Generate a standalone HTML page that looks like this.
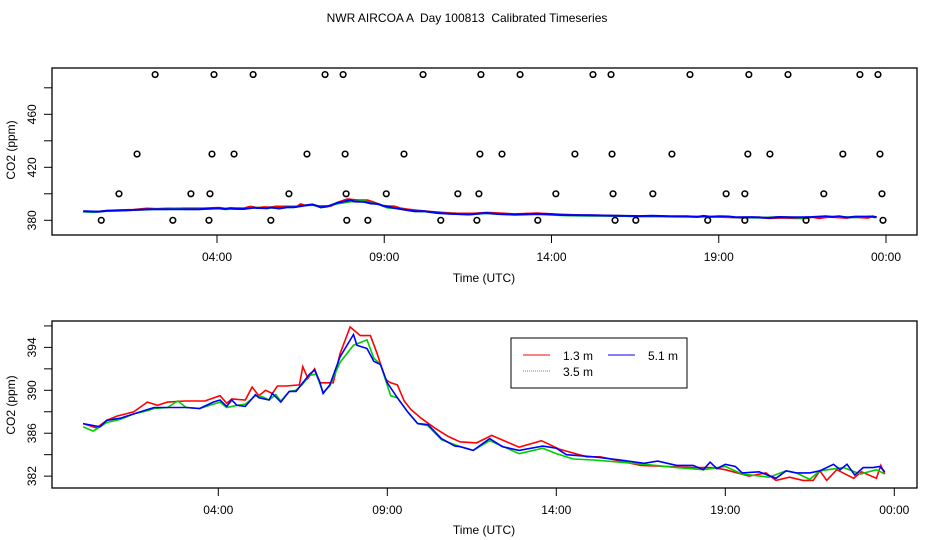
<!DOCTYPE html>
<html><head><meta charset="utf-8"><style>
body{margin:0;background:#fff}
svg{display:block;font-family:"Liberation Sans",sans-serif}
</style></head><body>
<svg id="chart" width="936" height="540">
<text x="467" y="22" font-size="12" text-anchor="middle" style="white-space:pre" xml:space="preserve">NWR AIRCOA A  Day 100813  Calibrated Timeseries</text>
</svg>
<script>
const xTickHours=[4,9,14,19,24];
const xTickLabels=["04:00","09:00","14:00","19:00","00:00"];
const topYTicks=[380,400,420,440,460,480];
const topYLabels=[380,420,460];
const botYTicks=[382,384,386,388,390,392,394,396];
const botYLabels=[382,386,390,394];
const out490=[2.15,3.91,5.08,7.23,7.77,10.16,11.89,13.06,15.24,15.78,18.14,19.90,21.07,23.22,23.76];
const out430=[1.61,3.85,4.51,6.69,7.83,9.59,11.86,12.52,14.70,15.81,17.60,19.87,20.53,22.71,23.82];
const out400=[1.07,3.22,3.79,6.15,7.86,9.06,11.20,11.83,14.13,15.84,17.03,19.22,19.78,22.14,23.88];
const out380=[0.54,2.68,3.76,5.61,7.88,8.51,10.69,11.77,13.59,15.90,16.52,18.67,19.78,21.61,23.91];
const redH=[0,0.4,0.7,1.0,1.5,1.9,2.2,2.5,3.0,3.6,4.05,4.25,4.4,4.8,5.0,5.2,5.4,5.6,5.75,6.0,6.4,6.5,6.65,6.85,7.0,7.4,7.6,7.9,8.2,8.5,8.7,8.95,9.1,9.3,9.5,9.7,10.0,10.4,10.8,11.15,11.64,12.09,12.9,13.56,14.1,14.9,15.3,15.9,16.5,17.3,18.05,18.6,19.0,19.7,20.2,20.5,20.9,21.3,21.6,21.8,22.0,22.3,22.8,23.03,23.47,23.6,23.72];
const redV=[386.9,386.5,387.2,387.6,388.0,388.9,388.6,388.9,389.0,389.0,389.5,388.8,389.2,389.1,390.3,389.5,390.0,389.7,390.4,390.4,390.5,392.2,391.1,392.0,390.7,390.7,393.4,395.9,395.1,395.1,393.4,391.0,390.7,390.5,389.0,388.2,387.4,386.5,385.7,385.2,385.1,385.8,384.7,385.3,384.5,383.8,383.8,383.4,383.0,382.9,382.8,382.8,382.6,382.0,382.3,381.6,381.9,381.6,381.6,382.5,381.6,382.6,381.8,382.4,381.8,383.0,382.2];
const greenH=[0,0.3,0.7,1.1,1.5,1.9,2.1,2.5,2.8,3.05,3.45,3.85,4.05,4.25,4.55,4.8,5.1,5.3,5.5,5.7,5.85,6.1,6.3,6.5,6.7,6.9,7.1,7.3,7.6,8.0,8.4,8.6,8.8,9.1,9.3,9.6,9.9,10.2,10.6,11.15,11.54,12.03,12.9,13.6,14.0,14.5,15.1,15.9,16.6,17.56,18.35,19.0,19.5,20.3,20.8,21.1,21.5,21.8,22.5,23.0,23.47,23.72];
const greenV=[386.6,386.2,387.0,387.3,387.8,388.1,388.3,388.4,389.0,388.4,388.3,388.7,388.9,388.4,388.6,388.7,389.5,389.4,389.1,389.6,389.0,389.9,390.0,390.6,391.4,391.5,389.8,390.4,392.6,394.2,394.7,393.0,392.4,389.5,389.3,388.0,386.9,386.7,385.4,384.75,384.4,385.3,384.1,384.6,384.1,383.6,383.5,383.3,383.1,382.8,382.6,382.9,382.2,381.9,382.5,382.3,381.7,382.5,382.8,382.2,382.6,382.2];
const blueH=[0,0.5,0.7,1.1,1.5,1.9,2.1,2.5,3.05,3.45,3.85,4.05,4.25,4.4,4.55,4.8,5.1,5.2,5.5,5.6,5.85,6.1,6.3,6.5,6.7,6.85,7.0,7.1,7.3,7.6,8.0,8.1,8.4,8.6,8.8,9.0,9.3,9.6,9.9,10.2,10.6,11.0,11.15,11.54,12.03,12.4,12.9,13.6,14.0,14.3,15.1,15.9,16.6,17.0,17.56,18.05,18.35,18.55,18.75,19.0,19.3,19.5,20.0,20.5,20.8,21.1,21.5,21.8,22.2,22.4,22.6,22.83,23.08,23.37,23.57,23.72];
const blueV=[386.9,386.6,387.2,387.4,387.8,388.2,388.4,388.4,388.4,388.3,388.9,389.1,388.5,389.1,388.6,388.5,389.6,389.3,389.1,389.7,388.9,389.9,389.9,390.7,391.5,391.9,390.8,389.7,390.5,393.1,395.2,394.2,393.9,392.7,392.4,390.7,389.3,388.0,386.9,386.8,385.5,384.8,384.75,384.4,385.5,384.75,384.4,384.8,384.6,384.0,383.8,383.5,383.2,383.4,383.0,383.0,382.6,383.3,382.7,383.1,382.9,382.3,382.4,381.8,382.5,382.3,382.3,382.5,383.1,382.6,383.1,382.1,382.8,382.8,382.9,382.4];

const NS="http://www.w3.org/2000/svg";
const svg=document.getElementById('chart');
function mk(tag,attrs,parent){const e=document.createElementNS(NS,tag);for(const k in attrs)e.setAttribute(k,attrs[k]);(parent||svg).appendChild(e);return e;}

const panels=[
 {name:'top',left:52,right:917,top:68,bottom:235,x0:83.2,pxh:33.45,v0:380,y0:220.3,ppv:1.325,yt:topYTicks,yl:topYLabels,ylabCy:150,xlabY:282},
 {name:'bottom',left:52,right:917,top:321,bottom:488,x0:83.1,pxh:33.8,v0:390,y0:390.3,ppv:10.73,yt:botYTicks,yl:botYLabels,ylabCy:405,xlabY:534}
];
const series=[['red',redH,redV,'#ff0000'],['green',greenH,greenV,'#00cd00'],['blue',blueH,blueV,'#0000ff']];

panels.forEach(p=>{
 const X=h=>p.x0+h*p.pxh, Y=v=>p.y0-(v-p.v0)*p.ppv;
 const g=mk('g',{});
 
 
 const box=mk('rect',{x:p.left,y:p.top,width:p.right-p.left,height:p.bottom-p.top,fill:'none',stroke:'#000','stroke-width':1.3},g);
 
 
 xTickHours.forEach((h,i)=>{
  const x=X(h);
  const t=mk('line',{x1:x,x2:x,y1:p.bottom,y2:p.bottom+8,stroke:'#000'},g);
  
  
  const l=mk('text',{x:x,y:p.bottom+26,'font-size':12,'text-anchor':'middle'},g);
  l.textContent=xTickLabels[i];
  
  
 });
 p.yt.forEach(v=>{
  const y=Y(v);
  const t=mk('line',{x1:p.left-8,x2:p.left,y1:y,y2:y,stroke:'#000'},g);
  
  
 });
 p.yl.forEach(v=>{
  const y=Y(v);
  const l=mk('text',{x:0,y:0,'font-size':12,'text-anchor':'middle',transform:`translate(${p.left-16},${y}) rotate(-90)`},g);
  l.textContent=v;
  
  
 });
 const xt=mk('text',{x:484,y:p.xlabY,'font-size':12,'text-anchor':'middle'},g);
 xt.textContent='Time (UTC)';
 
 
 const yt=mk('text',{x:0,y:0,'font-size':12,'text-anchor':'middle',transform:`translate(15,${p.ylabCy}) rotate(-90)`},g);
 yt.textContent='CO2 (ppm)';
 
 
 series.forEach(s=>{
  const pts=s[1].map((h,i)=>X(h).toFixed(1)+','+Y(s[2][i]).toFixed(1)).join(' ');
  const pl=mk('polyline',{points:pts,fill:'none',stroke:s[3],'stroke-width':p.name==='top'?2:1.6},g);
  
  
 });
 if(p.name==='top'){
  [[490,out490],[430,out430],[400,out400],[380,out380]].forEach(r=>{
   r[1].forEach(h=>{
    const c=mk('circle',{cx:X(h),cy:Y(r[0]),r:2.8,fill:'none',stroke:'#000','stroke-width':1.6},g);
    
    
   });
  });
 } else {
  const lg=mk('g',{},g);
  
  
  mk('rect',{x:511,y:338,width:176,height:50,fill:'#fff',stroke:'#000','stroke-width':1},lg);
  [['1.3 m','#ff0000',523,355,'none'],['5.1 m','#0000ff',608,355,'none'],['3.5 m','#00cd00',523,371,'1,1']].forEach(e=>{
   const eg=mk('g',{},lg);
   
   
   mk('line',{x1:e[2],x2:e[2]+27,y1:e[3],y2:e[3],stroke:e[1],'stroke-width':1,'stroke-dasharray':e[4]},eg);
   const t=mk('text',{x:e[2]+40,y:e[3]+5,'font-size':12},eg);
   t.textContent=e[0];
  });
 }
});
</script>
</body></html>
